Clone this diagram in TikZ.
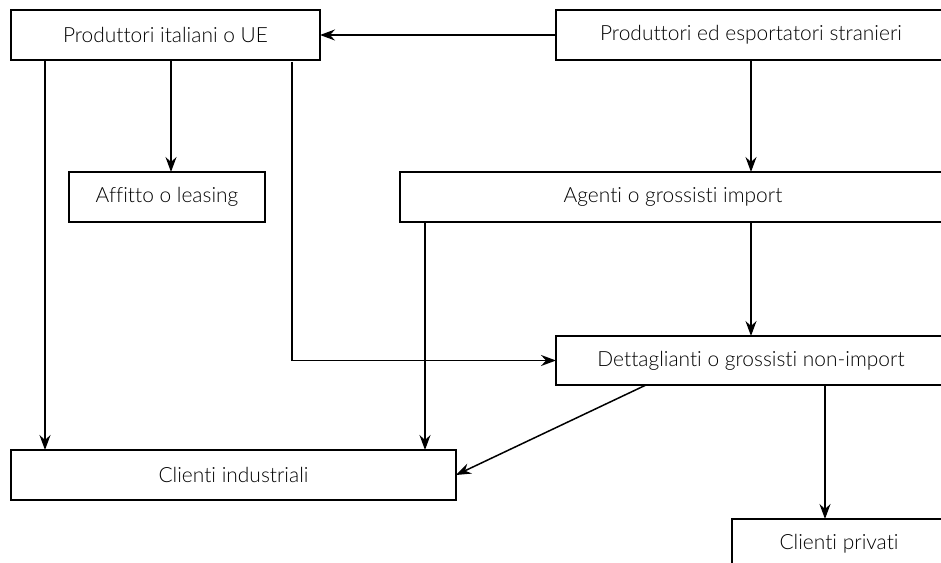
\documentclass[tikz,border=0pt]{standalone}
\usepackage{fontspec}
\setmainfont[Ligatures=CommonOff]{Lato Light}
\usetikzlibrary{arrows.meta}

\tikzset{
	box/.style={draw, line width=1.3bp, rectangle, minimum height=50bp, outer sep=0pt,
		inner sep=0pt, font=\fontsize{21}{24}\selectfont},
	flow/.style={line width=1.5bp, -{Stealth[length=15bp, width=11bp, inset=5bp]}}
}

\begin{document}
\begin{tikzpicture}[x=1bp, y=-1bp]
	\useasboundingbox
		(0,0) rectangle (941,563);
	\clip
		(0,0) rectangle (941,563);

	\node[box, minimum width=309bp] (ita) at (165.5,35) {Produttori italiani o UE};
	\node[box, minimum width=390bp] (str) at (751,35) {Produttori ed esportatori stranieri};
	\node[box, minimum width=196bp] (aff) at (167,197) {Affitto o leasing};
	\node[box, minimum width=546bp] (age) at (673,197) {Agenti o grossisti import};
	\node[box, minimum width=390bp, minimum height=49bp] (det) at (751,360.5) {Dettaglianti o grossisti non-import};
	\node[box, minimum width=445bp] (ind) at (233.5,475) {Clienti industriali};
	\node[box, minimum width=214bp] (pri) at (839,544) {Clienti privati};

	\draw[flow]
		(str.west) -- (ita.east);
	\draw[flow]
		(str.south) -- (str.south |- age.north);
	\draw[flow]
		([xshift=4bp]aff.north |- ita.south) -- ([xshift=4bp]aff.north);

	% dal produttore italiano
	\draw[flow]
		([xshift=34bp]ita.south west) -- ([xshift=34bp]ita.south west |- ind.north);
	\draw[flow]
		([xshift=-28bp, yshift=-2bp]ita.south east) |- (det.west);

	% dagli agenti
	\draw[flow]
		([xshift=25bp]age.south west) -- ([xshift=25bp]age.south west |- ind.north);
	\draw[flow]
		(det.north |- age.south) -- (det.north);

	% dai dettaglianti
	\draw[flow]
		([xshift=90bp]det.south west) -- (ind.east);
	\draw[flow]
		([xshift=93bp]pri.north west |- det.south) -- ([xshift=93bp]pri.north west);
\end{tikzpicture}
\end{document}
